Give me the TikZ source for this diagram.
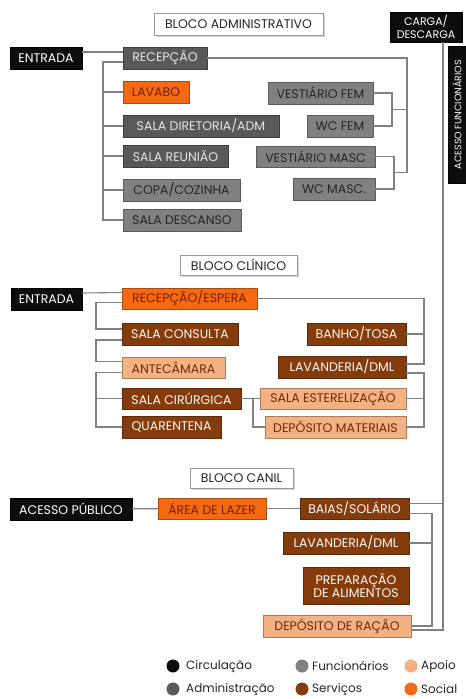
\documentclass[tikz,border=0pt]{standalone}
\usepackage{fontspec}
\setmainfont{Poppins}
\usetikzlibrary{shadows,calc}
\definecolor{circ}{HTML}{0D0D0D}
\definecolor{adm}{HTML}{595959}
\definecolor{func}{HTML}{808080}
\definecolor{apoio}{HTML}{F4B183}
\definecolor{serv}{HTML}{843C0C}
\definecolor{social}{HTML}{F36A12}
\definecolor{linegray}{HTML}{808080}
\definecolor{txtdark}{HTML}{262626}
\definecolor{txtbrown}{HTML}{6E2A08}
\definecolor{txtred}{HTML}{7A1E00}
\newcommand\rbox[7]{\node[#1, minimum width={(#5-#3)*1pt}, minimum height={(#6-#4)*1pt}] (#2) at ({(#3+#5)/2},{(#4+#6)/2}) {#7};}
\tikzset{
  bx/.style={inner sep=1pt, outer sep=0pt, align=center, font=\fontsize{12.5}{13}\selectfont, line width=0.7pt},
  bcirc/.style={bx, fill=circ, draw=black, text=white},
  badm/.style={bx, fill=adm, draw=adm!70!black, text=white!90!black},
  bfunc/.style={bx, fill=func, draw=func!70!black, text=txtdark},
  bapoio/.style={bx, fill=apoio, draw=apoio!70!black, text=txtbrown},
  bserv/.style={bx, fill=serv, draw=serv!70!black, text=white!92!apoio},
  bsocial/.style={bx, fill=social, draw=social!70!black, text=txtred},
  btitle/.style={bx, fill=white, draw=gray!80, text=txtdark, drop shadow={shadow xshift=1.5pt, shadow yshift=-1.5pt, opacity=0.35}},
  conn/.style={draw=linegray, line width=1.1pt},
  legdot/.style={circle, inner sep=0pt, minimum size=13pt},
  legtxt/.style={anchor=west, inner sep=0pt, text=txtdark, font=\fontsize{12}{13}\selectfont}
}
\begin{document}
\begin{tikzpicture}[x=1pt,y=-1pt]
\useasboundingbox (0,0) rectangle (466,699);
% ---------- ADMIN ----------
\rbox{btitle}{titleA}{154}{13}{323}{35}{BLOCO ADMINISTRATIVO}
\rbox{bcirc}{carga}{390}{12}{462}{42}{\fontsize{11}{12}\selectfont CARGA/\\\fontsize{11}{12}\selectfont DESCARGA}
\node[bcirc, minimum width=137pt, minimum height=18pt, rotate=90, font=\fontsize{9.5}{10}\selectfont] (acesso) at (457,114.5) {ACESSO FUNCIONÁRIOS};
\rbox{bcirc}{entA}{10}{47}{82}{69}{ENTRADA}
\rbox{badm}{recA}{123}{47}{207}{69}{RECEPÇÃO}
\rbox{bsocial}{lav}{123}{81}{189}{103}{LAVABO}
\rbox{badm}{dir}{123}{115}{279}{137}{SALA DIRETORIA/ADM}
\rbox{badm}{reu}{123}{145}{228}{167}{SALA REUNIÃO}
\rbox{bfunc}{copa}{123}{179}{240}{201}{COPA/COZINHA}
\rbox{bfunc}{desc}{123}{209}{241}{231}{SALA DESCANSO}
\rbox{bfunc}{vfem}{268}{82}{373}{104}{VESTIÁRIO FEM}
\rbox{bfunc}{wfem}{307}{115}{373}{137}{WC FEM}
\rbox{bfunc}{vmasc}{256}{146}{375}{167}{VESTIÁRIO MASC}
\rbox{bfunc}{wmasc}{293}{178}{375}{200}{WC MASC.}
\coordinate (sA) at (103,0);
\coordinate (sAr) at (407,0);
\coordinate (fM) at (392,0);
\coordinate (mM) at (394,0);
\draw[conn] ([yshift=6pt]entA.east) -- ([yshift=6pt]recA.west);
\draw[conn] ([yshift=-4pt]recA.west) -| (sA |- desc.west) -- (desc.west);
\foreach \n in {lav,dir,reu,copa}{\draw[conn] (sA |- \n.west) -- (\n.west);}
\coordinate (fmid) at ($(vfem.east)!.5!(wfem.east)$);
\coordinate (mmid) at ($(vmasc.east)!.5!(wmasc.east)$);
\draw[conn] (vfem.east) -| (fM |- wfem.east) -- (wfem.east);
\draw[conn] (fM |- fmid) -- (sAr |- fmid);
\draw[conn] (vmasc.east) -| (mM |- wmasc.east) -- (wmasc.east);
\draw[conn] (recA.east) -| (sAr |- mmid) -- (mM |- mmid);
% ---------- CLINICO ----------
\rbox{btitle}{titleC}{180}{255}{297}{275}{BLOCO CLÍNICO}
\rbox{bcirc}{entC}{11}{288}{82}{310}{ENTRADA}
\rbox{bsocial}{recC}{122}{288}{257}{309}{RECEPÇÃO/ESPERA}
\rbox{bserv}{cons}{122}{323}{238}{345}{SALA CONSULTA}
\rbox{bapoio}{ante}{122}{357}{225}{378}{ANTECÂMARA}
\rbox{bserv}{cir}{122}{388}{241}{409}{SALA CIRÚRGICA}
\rbox{bserv}{quar}{122}{416}{221}{438}{QUARENTENA}
\rbox{bapoio}{ester}{260}{388}{406}{409}{SALA ESTERELIZAÇÃO}
\rbox{bapoio}{depm}{265}{416}{406}{438}{DEPÓSITO MATERIAIS}
\rbox{bserv}{banho}{307}{323}{406}{345}{BANHO/TOSA}
\rbox{bserv}{lavC}{278}{356}{406}{378}{LAVANDERIA/DML}
\coordinate (sC) at (96,0);
\coordinate (sCr) at (424,0);
\coordinate (sCm) at (253,0);
\coordinate (c1) at ([yshift=5pt]cons.west);
\coordinate (c2) at ([yshift=-6pt]cons.west);
\coordinate (c3) at ([yshift=6pt]ante.west);
\coordinate (c4) at ([yshift=-5pt]ante.west);
\coordinate (c5) at ([yshift=3pt]lavC.east);
\coordinate (c6) at ([yshift=-6pt]lavC.east);
\draw[conn] ([yshift=6pt]entC.east) -- ([yshift=6pt]recC.west);
\draw[conn] ([yshift=-4pt]recC.west) -| (sC |- c1) -- (c1);
\draw[conn] (c2) -| (sC |- c3) -- (c3);
\draw[conn] (c4) -| (sC |- quar.west) -- (quar.west);
\draw[conn] (sC |- cir.west) -- (cir.west);
\draw[conn] (cir.east) -| (sCm |- depm.west) -- (depm.west);
\draw[conn] (sCm |- ester.west) -- (ester.west);
\draw[conn] (recC.east) -| (sCr |- c5) -- (c5);
\draw[conn] (sCr |- banho.east) -- (banho.east);
\draw[conn] (c6) -| (sCr |- depm.east) -- (depm.east);
\draw[conn] (sCr |- ester.east) -- (ester.east);
% ---------- CANIL ----------
\rbox{btitle}{titleK}{190}{468}{293}{488}{BLOCO CANIL}
\rbox{bcirc}{pub}{10}{498}{132}{520}{ACESSO PÚBLICO}
\rbox{bsocial}{laz}{158}{498}{266}{519}{ÁREA DE LAZER}
\rbox{bserv}{baias}{300}{498}{409}{519}{BAIAS/SOLÁRIO}
\rbox{bserv}{lavK}{283}{532}{409}{554}{LAVANDERIA/DML}
\rbox{bserv}{prep}{303}{567}{409}{604}{PREPARAÇÃO\\DE ALIMENTOS}
\rbox{bapoio}{depr}{263}{615}{411}{637}{DEPÓSITO DE RAÇÃO}
\coordinate (sM) at (443,0);
\coordinate (sK) at (432,0);
\coordinate (k1) at ([yshift=5pt]baias.east);
\coordinate (k2) at ([yshift=-4pt]depr.east);
\coordinate (k3) at ([yshift=-5pt]baias.east);
\draw[conn] (pub) -- (laz);
\draw[conn] (laz) -- (baias);
\draw[conn] (sM |- carga.south) -- (sM |- k2) -- (k2);
\draw[conn] (k1) -- (sM |- k1);
\draw[conn] (k3) -| (sK |- depr.east) -- (depr.east);
\draw[conn] (sK |- lavK.east) -- (lavK.east);
% ---------- LEGEND ----------
\node[legdot, fill=circ] (d1) at (173,666) {};
\node[legdot, fill=func] (d2) at (302,666) {};
\node[legdot, fill=apoio] (d3) at (411,666) {};
\node[legdot, fill=adm] (d4) at (173,689) {};
\node[legdot, fill=serv] (d5) at (302,689) {};
\node[legdot, fill=social] (d6) at (411,689) {};
\node[legtxt] (t1) at (186,666) {Circulação};
\node[legtxt] (t2) at (312,666) {Funcionários};
\node[legtxt] (t3) at (421,666) {Apoio};
\node[legtxt] (t4) at (186,689) {Administração};
\node[legtxt] (t5) at (312,689) {Serviços};
\node[legtxt] (t6) at (421,689) {Social};
\end{tikzpicture}
\end{document}
